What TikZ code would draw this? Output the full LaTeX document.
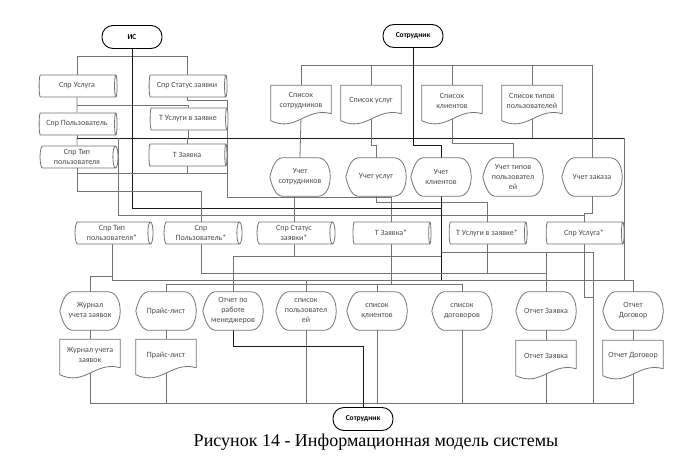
\documentclass[tikz,border=0pt]{standalone}
\usepackage{fontspec}
\setmainfont{Carlito}
\newfontfamily\capfont{Liberation Serif}
\usetikzlibrary{shapes.geometric,positioning,calc}
\pgfdeclarelayer{wires}
\pgfdeclarelayer{outl}
\pgfsetlayers{wires,outl,main}

\tikzset{
  lin/.style={draw=black!55, line width=0.8pt},
  dark/.style={draw=black!90, line width=0.9pt},
  txt/.style={font=\fontsize{8}{10}\selectfont, text=black!70, align=center, inner sep=1pt},
  term/.style={draw, line width=0.9pt, rounded corners=11pt, fill=white, minimum width=60pt, minimum height=23pt, font=\fontsize{7.5}{9}\selectfont\bfseries},
  db/.style={txt, cylinder, draw=black!55, line width=0.8pt, fill=white, shape aspect=0.3, minimum width=22pt, minimum height=78pt},
  disp/.style={txt, minimum width=60pt, minimum height=38pt},
  doc/.style={txt, minimum width=60pt, minimum height=31pt}
}

\begin{document}
\begin{tikzpicture}[x=1pt,y=-1pt,on grid]
  \useasboundingbox (0,0) rectangle (678,460);
  % terminals
  \node[term] (is) at (132,37) {ИС};
  \node[term] (sotr) at (413,36) {Сотрудник};
  \node[term] (sotrB) at (363,419) {Сотрудник};
  % tables IS
  \node[db] (sprUsl) at (77,86) {Спр Услуга};
  \node[db] (sprStat) [right=110pt of sprUsl] {Спр Статус заявки};
  \node[db] (sprPolz) [below=38pt of sprUsl] {Спр Пользователь};
  \node[db] (tUslZ) at (188,119) {Т Услуги в заявке};
  \node[db] (sprTip) [below=33pt of sprPolz] {Спр Тип\\пользователя};
  \node[db] (tZayav) at (187,155) {Т Заявка};
  % lists
  \node[doc] (spSotr) at (301,101) {Список\\сотрудников};
  \node[doc] (spUsl) [right=70pt of spSotr] {Список услуг};
  \node[doc] (spKl) [right=81pt of spUsl] {Список\\клиентов};
  \node[doc] (spTip) [right=80pt of spKl] {Список типов\\пользователей};
  % processes
  \node[disp] (uSotr) at (300,177) {Учет\\сотрудников};
  \node[disp] (uUsl) [right=76pt of uSotr] {Учет услуг};
  \node[disp] (uKl) [right=65pt of uUsl] {Учет\\клиентов};
  \node[disp] (uTip) [right=72pt of uKl] {Учет типов\\пользовател\\ей};
  \node[disp] (uZak) [right=79pt of uTip] {Учет заказа};
  % tables *
  \node[db] (sprTip2) at (112,233) {Спр Тип\\пользователя*};
  \node[db] (sprPolz2) [right=89pt of sprTip2] {Спр\\Пользователь*};
  \node[db] (sprStat2) [right=93pt of sprPolz2] {Спр Статус\\заявки*};
  \node[db] (tZayav2) [right=97pt of sprStat2] {Т Заявка*};
  \node[db] (tUslZ2) [right=96pt of tZayav2] {Т Услуги в заявке*};
  \node[db] (sprUsl2) [right=97pt of tUslZ2] {Спр Услуга*};
  % reports
  \node[disp] (zhur) at (90,311) {Журнал\\учета заявок};
  \node[disp] (prais) [right=76pt of zhur] {Прайс-лист};
  \node[disp] (otchMen) [right=67pt of prais] {Отчет по\\работе\\менеджеров};
  \node[disp] (spPolz) [right=73pt of otchMen] {список\\пользовател\\ей};
  \node[disp] (spKlient) [right=71pt of spPolz] {список\\клиентов};
  \node[disp] (spDog) [right=85pt of spKlient] {список\\договоров};
  \node[disp] (otchZ) [right=84pt of spDog] {Отчет Заявка};
  \node[disp] (otchD) [right=87pt of otchZ] {Отчет\\Договор};
  % printed
  \node[doc] (dZhur) [below=44pt of zhur] {Журнал учета\\заявок};
  \node[doc] (dPrais) [below=44pt of prais] {Прайс-лист};
  \node[doc] (dOtchZ) [below=45pt of otchZ] {Отчет Заявка};
  \node[doc] (dOtchD) [below=45pt of otchD] {Отчет Договор};
  \node[font=\capfont\fontsize{18}{21}\selectfont] (cap) at (376,442) {Рисунок 14 - Информационная модель системы};

  \coordinate (busW) at (77,138);
  \coordinate (busE) at (624,138);
  \coordinate (j118) at (118,138);
  \coordinate (hA) at (77,173);
  \coordinate (hB) at (227,173);
  \coordinate (sw1) at (227,197);
  \coordinate (b280) at (633,280);
  \coordinate (b256) at (441,256);
  \coordinate (b252) at (593,252);
  \coordinate (b284) at (462,284);
  \coordinate (b274) at ($(otchZ.north)+(0,-18)$);
  \coordinate (bot) at (633,403);

  \begin{pgfonlayer}{outl}
    \foreach \n in {uSotr,uUsl,uKl,uTip,uZak,zhur,prais,otchMen,spPolz,spKlient,spDog,otchZ,otchD}
      \filldraw[lin,fill=white] ($(\n.north west)+(12,0)$) -- ($(\n.north east)+(-12,0)$)
        .. controls ($(\n.north east)+(4,0)$) and ($(\n.south east)+(4,0)$) .. ($(\n.south east)+(-12,0)$)
        -- ($(\n.south west)+(12,0)$)
        .. controls ($(\n.south west)+(5,-1)$) and ($(\n.west)+(2,8)$) .. (\n.west)
        .. controls ($(\n.west)+(2,-8)$) and ($(\n.north west)+(5,1)$) .. cycle;
    \foreach \n in {spSotr,spUsl,spKl,spTip,dZhur,dPrais,dOtchZ,dOtchD}
      \filldraw[lin,fill=white] (\n.north west) -- (\n.north east) -- ($(\n.south east)+(0,-3)$)
        .. controls ($(\n.south east)+(-25,-10)$) and ($(\n.south west)+(25,16)$) .. ($(\n.south west)+(0,4)$) -- cycle;
  \end{pgfonlayer}

  \begin{pgfonlayer}{wires}
    % IS block
    \draw[lin] (sprUsl.north) -- ++(0,-18) -| (sprStat.north);
    \draw[lin] (sprUsl.south) -- (sprPolz.north);
    \draw[lin] ($(sprUsl.south)+(0,8)$) -| (tUslZ.north);
    \draw[lin] (sprStat.south) -- ++(0,3) -| (sw1) -| (tZayav2.north);
    \draw[dark] (is.south) |- ($(uKl.south)+(0,12)$);
    \draw[dark] (busW) -- (busE);
    \draw[lin] (sprPolz.south) -- (sprPolz.south |- busW);
    \draw[lin] (tUslZ.south) -- (tUslZ.south |- busW);
    \draw[lin] (tZayav.north) -- (tZayav.north |- busW);
    \draw[lin] (busW) -- (sprTip.north);
    \draw[lin] (sprTip.south) |- ($(sprPolz2.north)+(0,-30)$) -| (sprPolz2.north);
    \draw[lin] (j118) |- ($(sprUsl2.north)+(0,-6)$) -- (sprUsl2.north);
    \draw[lin] (hA) -- (hB);
    \draw[lin] (tZayav.south) -- (tZayav.south |- hA);
    % staff lists
    \draw[lin] (spSotr.north) -- ++(0,-20) -| (uZak.north);
    \draw[lin] (spUsl.north) -- ++(0,-20);
    \draw[lin] (spKl.north) -- ++(0,-20);
    \draw[lin] (spTip.north) -- ++(0,-20);
    \draw[lin] (spSotr.south) -- (uSotr.north);
    \draw[lin] (spUsl.south) |- ($(uUsl.north)+(0,-12)$) -- (uUsl.north);
    \draw[lin] (spKl.south) |- ($(uTip.north)+(0,-14)$) -- (uTip.north);
    \draw[lin] (spTip.south) -- (spTip.south |- busW);
    \draw[dark] (sotr.south) |- ($(uKl.north)+(0,-12)$) -- (uKl.north);
    \draw[lin] (busE) |- (b280) -- (otchD.north);
    % processes to tables
    \draw[lin] (uSotr.south -| sprStat2.north) -- (sprStat2.north);
    \draw[lin] (uUsl.south) |- ($(tUslZ2.north)+(0,-19)$) -- (tUslZ2.north);
    \draw[dark] (uKl.south) -- (uKl.south |- b280);
    \draw[lin] (uZak.south) -- ++(0,17) -| (sprUsl2.north);
    % tables to reports
    \draw[lin] (sprTip2.south) |- (b280);
    \draw[lin] (sprTip2.south) |- ($(zhur.north)+(0,-15)$) -- (zhur.north);
    \draw[lin] (sprPolz2.south) |- (b274) -- (otchZ.north);
    \draw[lin] (sprStat2.south) |- (b256);
    \draw[lin] (otchMen.north) |- (b256);
    \draw[lin] (uKl.south |- b252) -- (b252);
    \draw[lin] (otchZ.north |- b252) -- (b274);
    \draw[lin] (prais.north) |- (b284) -- (spDog.north);
    \draw[lin] (tZayav2.south) -- (tZayav2.south |- b284);
    \draw[lin] (spKlient.north) -- (spKlient.north |- b284);
    \draw[lin] (tUslZ2.south) -- (tUslZ2.south |- b274);
    \draw[lin] (spPolz.north) -- (spPolz.north |- b280);
    \draw[lin] (sprUsl2.south) |- ($(b252)+(0,45)$);
    % bottom
    \draw[lin] (zhur.south) -- (dZhur.north);
    \draw[lin] (prais.south) -- (dPrais.north);
    \draw[lin] (otchZ.south) -- (dOtchZ.north);
    \draw[lin] (otchD.south) -- (dOtchD.north);
    \draw[lin] (dZhur.south) |- (bot) -- (dOtchD.south);
    \draw[lin] (b252) -- (b252 |- bot);
    \draw[lin] (dPrais.south) -- (dPrais.south |- bot);
    \draw[lin] (spPolz.south) -- (spPolz.south |- bot);
    \draw[lin] (spKlient.south) -- (spKlient.south |- bot);
    \draw[lin] (spDog.south) -- (spDog.south |- bot);
    \draw[lin] (dOtchZ.south) -- (dOtchZ.south |- bot);
    \draw[dark] (sotrB.north) |- ($(otchMen.south)+(0,16)$) -- (otchMen.south);
  \end{pgfonlayer}
\end{tikzpicture}
\end{document}
